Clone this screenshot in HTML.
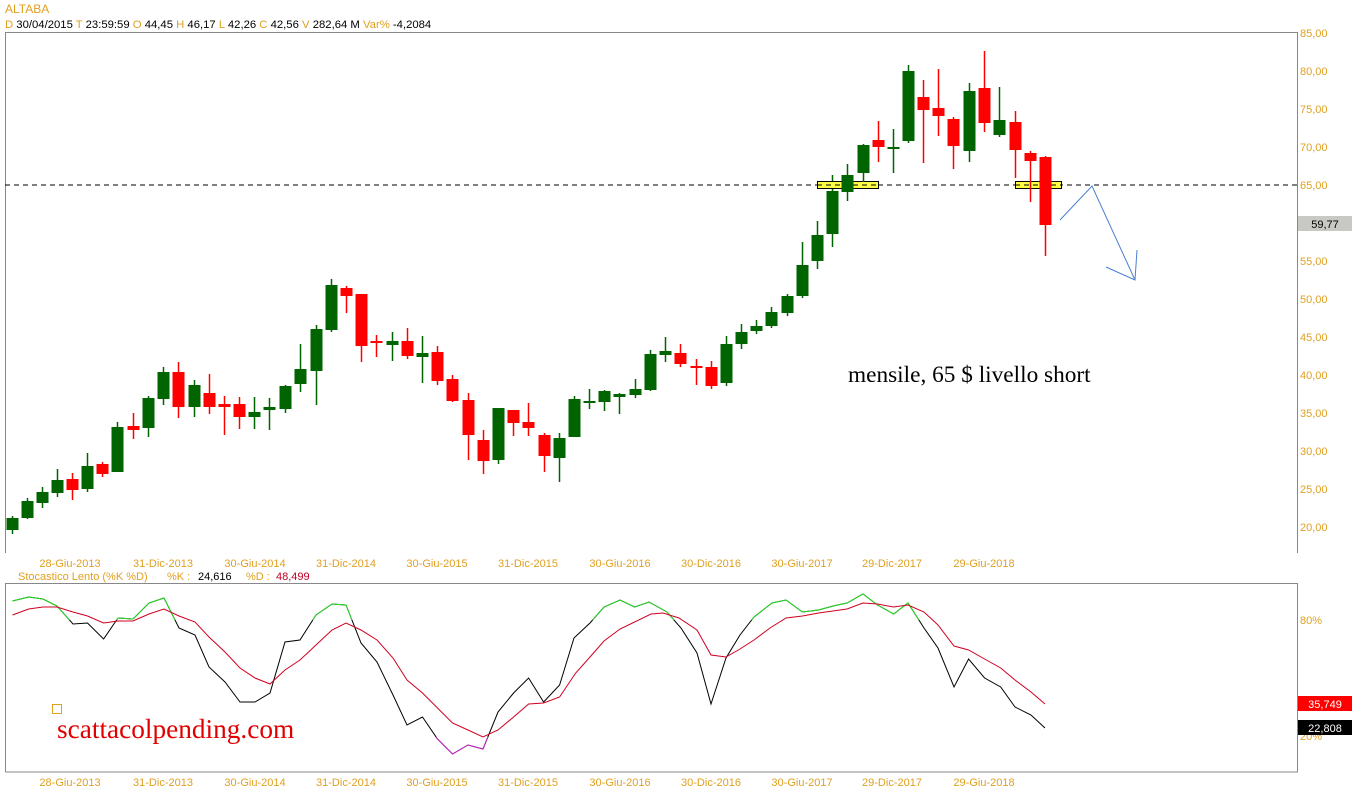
<!DOCTYPE html>
<html><head><meta charset="utf-8"><style>
html,body{margin:0;padding:0;background:#fff;width:1352px;height:800px;overflow:hidden}
svg{display:block}
text{font-family:"Liberation Sans",sans-serif}
</style></head><body>
<svg id="s" width="1352" height="800" xmlns="http://www.w3.org/2000/svg">
<rect width="1352" height="800" fill="#fff"/>
<text x="5" y="13" font-size="12" fill="#e0a020">ALTABA</text>
<text x="5" y="28" font-size="11.3" fill="#000"><tspan fill="#e0a020">D</tspan> 30/04/2015  <tspan fill="#e0a020">T</tspan> 23:59:59  <tspan fill="#e0a020">O</tspan> 44,45  <tspan fill="#e0a020">H</tspan> 46,17  <tspan fill="#e0a020">L</tspan> 42,26  <tspan fill="#e0a020">C</tspan> 42,56  <tspan fill="#e0a020">V</tspan> 282,64 M  <tspan fill="#e0a020">Var%</tspan> -4,2084</text>
<path d="M5.5 553V32.5H1297.5V553" fill="none" stroke="#888"/>
<path d="M5.5 772V583.5H1297.5V772H5.5" fill="none" stroke="#888"/>
<g id="axis" font-size="11" fill="#e0a020"></g>
<line x1="5" y1="185" x2="1297" y2="185" stroke="#000" stroke-dasharray="5,4"/>
<g id="candles"></g>
<rect x="817.5" y="181.5" width="61" height="7" fill="#ffff44" stroke="#000"/>
<rect x="1015.5" y="181.5" width="46" height="7" fill="#ffff44" stroke="#000"/>
<line x1="817" y1="185" x2="878" y2="185" stroke="#000" stroke-dasharray="5,4"/>
<line x1="1015" y1="185" x2="1061" y2="185" stroke="#000" stroke-dasharray="5,4"/>
<g id="candles2"></g>
<polyline points="1060,220 1092,186 1135,280" fill="none" stroke="#4a7fd0" stroke-width="1"/>
<polyline points="1106,267 1135,280 1137,250" fill="none" stroke="#4a7fd0" stroke-width="1"/>
<text x="848" y="382" font-size="23.3" style="font-family:'Liberation Serif',serif">mensile, 65 $ livello short</text>
<rect x="1298" y="216" width="54" height="15" fill="#c8c8c4"/>
<text x="1325" y="228" font-size="11" text-anchor="middle" fill="#000">59,77</text>
<g id="dates" font-size="11" fill="#e0a020" text-anchor="middle"></g>
<text x="18" y="580" font-size="11" fill="#e0a020">Stocastico Lento (%K %D)      <tspan x="167">%K :</tspan><tspan x="198" fill="#000">24,616</tspan><tspan x="246">%D :</tspan><tspan x="276" fill="#c00020">48,499</tspan></text>
<text x="1300" y="624" font-size="11" fill="#e0a020">80%</text>
<text x="1300" y="740" font-size="11" fill="#e0a020">20%</text>
<defs>
<clipPath id="cg"><rect x="0" y="580" width="1300" height="40"/></clipPath>
<clipPath id="cm"><rect x="0" y="737" width="1300" height="40"/></clipPath>
</defs>
<g id="stoch"></g>
<rect x="1298" y="696" width="54" height="15" fill="#ff0000"/>
<text x="1325" y="708" font-size="11" text-anchor="middle" fill="#fff">35,749</text>
<rect x="1298" y="720" width="54" height="15" fill="#000"/>
<text x="1325" y="732" font-size="11" text-anchor="middle" fill="#fff">22,808</text>
<rect x="52.5" y="704.5" width="9" height="9" fill="none" stroke="#e0a020"/>
<text x="57" y="738" font-size="27.3" fill="#e00000" style="font-family:'Liberation Serif',serif">scattacolpending.com</text>
</svg>
<script>
var NS="http://www.w3.org/2000/svg";
function el(p,t,a){var e=document.createElementNS(NS,t);for(var k in a)e.setAttribute(k,a[k]);p.appendChild(e);return e;}
var ax=document.getElementById("axis");
var lv=[[85,33],[80,71],[75,109],[70,147],[65,185],[55,261],[50,299],[45,337],[40,375],[35,413],[30,451],[25,489],[20,527]];
lv.forEach(function(l){var t=el(ax,"text",{x:1300,y:l[1]+4});t.textContent=l[0]+",00";});
var C=[
[12,516,534,518,530,1],[27,498,519,501,518,1],[42,487,508,492,503,1],[57,469,497,480,493,1],[72,473,500,479,490,0],
[87,453,492,466,489,1],[102,462,477,464,474,0],[117,422,472,427,472,1],[133,413,439,426,430,0],[148,396,437,398,428,1],
[163,367,405,372,399,1],[178,362,418,372,407,0],[194,380,417,385,407,1],[209,374,414,393,407,0],[224,396,435,404,407,0],
[239,397,429,404,417,0],[254,397,429,412,417,1],[269,398,430,407,410,1],[285,385,413,386,409,1],[300,344,392,369,384,1],
[316,325,405,329,371,1],[331,279,332,285,330,1],[346,286,313,288,296,0],[361,294,362,294,346,0],[376,335,357,341,343,0],
[392,332,361,341,345,1],[407,328,359,341,356,0],[422,336,383,353,357,1],[437,346,385,352,381,0],[452,375,402,379,401,0],
[468,393,460,400,435,0],[483,430,474,440,461,0],[498,408,464,408,460,1],[513,410,436,410,423,0],[528,403,436,422,428,0],
[544,433,472,435,456,0],[559,433,482,438,458,1],[574,396,437,399,437,1],[589,389,409,401,403,1],[604,390,411,391,402,1],
[619,393,414,394,397,1],[635,379,398,389,395,1],[650,350,391,354,390,1],[665,337,362,351,355,1],[680,344,367,353,364,0],
[696,359,385,366,368,0],[711,361,389,367,386,0],[726,336,386,344,383,1],[741,324,349,332,344,1],[756,320,334,326,331,1],
[771,307,328,312,326,1],[787,294,316,296,313,1],[802,242,298,265,296,1],[817,221,269,235,261,1],[832,175,247,191,234,1],
[847,164,201,175,192,1],[863,144,182,145,173,1],[878,121,162,140,147,0],[893,129,173,147,149,1],[908,65,143,71,141,1],
[923,80,163,97,110,0],[938,69,136,108,116,0],[953,117,169,119,146,0],[969,83,162,91,151,1],[984,51,132,88,123,0],
[999,87,137,120,135,1],[1015,111,178,122,150,0],[1030,151,202,153,161,0],[1045,156,256,157,225,0]];
function draw(g,c){var col=c[5]?"#006400":"#ff0000";
el(g,"line",{x1:c[0]+.5,y1:c[1],x2:c[0]+.5,y2:c[2],stroke:col,"stroke-width":1.5});
el(g,"rect",{x:c[0]-5.5,y:c[3],width:12,height:Math.max(2,c[4]-c[3]),fill:col});}
var g1=document.getElementById("candles"),g2=document.getElementById("candles2");
C.forEach(function(c){draw((c[0]>=840&&c[0]<=864)||c[0]>=1030?g2:g1,c);});
var dg=document.getElementById("dates");
var D=[["28-Giu-2013",70],["31-Dic-2013",163],["30-Giu-2014",255],["31-Dic-2014",346],["30-Giu-2015",437],["31-Dic-2015",528],["30-Giu-2016",620],["30-Dic-2016",711],["30-Giu-2017",802],["29-Dic-2017",892],["29-Giu-2018",984]];
D.forEach(function(d){var t=el(dg,"text",{x:d[1],y:567});t.textContent=d[0];var t2=el(dg,"text",{x:d[1],y:786});t2.textContent=d[0];});
var K="12.5,601 28.6,597 43,599 57,606 73,624 87.5,623 103.6,639 118,618 133,619 149,603 164,598 179,628 195,635 209,667 225,682 240,702 255,702 270,693 285,642 300,640 316,615 332,604 346,605 361,643 377,662 393,695 407,725 422.5,717 437.5,739 452.5,754 468,745 483,749 498,712 513.6,693 528.6,678 543.6,702 559.6,685 574,638 590,623 604,607 620,600 634.6,607 649,602 667,612 681,628 697,653 711,704 726,658 740,635 754,617 772,603 786,600 802.5,612 818.6,610 833,606 847,603 863,594 877.5,605 893.6,614 908,603 924,628 938,648 954,687 968.6,659 984.6,678 1000.7,687 1015,707 1031,715 1045,728";
var Dl="12.5,615 28.6,609 43,607 57,607 73,612 87.5,616 103.6,623 118,621 133,621 149,614 164,609 179,616 195,622 209,637 225,652 240,668 255,678 270,684 285,670 300,660 316,645 332,630 346,623 361,630 377,640 393,658 407,680 422.5,693 437.5,708 452.5,723 468,730 483,737 498,730 513.6,717 528.6,704 543.6,703 559.6,697 575.7,673 590,657 604,641 620,629 634.6,622 651,614 663,613 679,618 697,630 711,655 726,657 740,649 754,640 770,628 786,618 802.5,616 818.6,613 833,611 847,609 863,603 877.5,604 893.6,607 908,605 924,612 938,625 954,646 968.6,650 984.6,659 1000.7,668 1015,680 1031,692 1045,704";
var sg=document.getElementById("stoch");
el(sg,"polyline",{points:K,fill:"none",stroke:"#000","stroke-width":1});
el(sg,"polyline",{points:K,fill:"none",stroke:"#22dd22","stroke-width":1,"clip-path":"url(#cg)"});
el(sg,"polyline",{points:K,fill:"none",stroke:"#cc22cc","stroke-width":1,"clip-path":"url(#cm)"});
el(sg,"polyline",{points:Dl,fill:"none",stroke:"#d00020","stroke-width":1});
</script>
</body></html>
